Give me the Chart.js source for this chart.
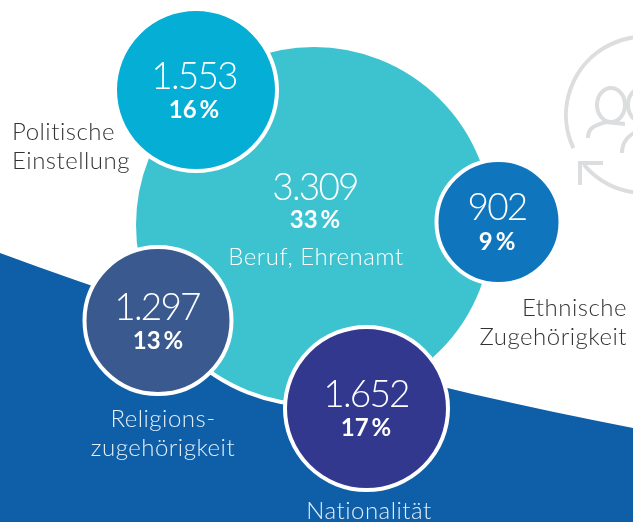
<!DOCTYPE html>
<html lang="de">
<head>
<meta charset="utf-8">
<title>Diskriminierungsmerkmale</title>
<script src="https://cdn.jsdelivr.net/npm/chart.js@4"></script>
<style>
  html, body { margin: 0; padding: 0; background: #fff; overflow: hidden; }
  canvas { display: block; }
</style>
</head>
<body>
<canvas id="chart" width="633" height="522"></canvas>
<script>
// Daten
const categories = [['Beruf, Ehrenamt'], ['Politische', 'Einstellung'], ['Ethnische', 'Zugehörigkeit'], ['Religions-', 'zugehörigkeit'], ['Nationalität']];
const counts = [3309, 1553, 902, 1297, 1652];
const shares = [33, 16, 9, 13, 17];

// Layout der Blasen
const bubbleX = [314, 196, 498.5, 158, 366.5];
const bubbleY = [225, 90, 222, 320.5, 408.5];
const bubbleR = [180, 81, 62, 73.5, 81.5];
const bubbleColors = ['#3DC3CF', '#05AED5', '#0F75BC', '#3A5A8F', '#33388F'];

// Layout der Beschriftungen
const valueX = [315, 194, 497, 157, 366];
const valueY = [188, 77, 208, 308, 395];
const shareX = [315, 194, 497, 158, 366];
const shareY = [220, 110, 242, 341, 428];
const nameX = [316, 12, 627, 163, 369];
const nameY = [257, 132, 308, 419, 511];
const nameColors = ['#fff', '#333', '#333', '#e3eef7', '#e3eef7'];
const nameAlign = ['center', 'left', 'right', 'center', 'center'];

const FONT = 'Lato, "Open Sans", sans-serif';

// Hintergrund: blaue Fläche und Symbol
const backdrop = {
    id: 'backdrop',
    beforeDatasetsDraw(chart) {
        const ctx = chart.ctx;
        ctx.save();
        ctx.fillStyle = '#0F5EA8';
        ctx.beginPath();
        ctx.moveTo(0, 253);
        ctx.bezierCurveTo(200, 328, 420, 387, 633, 428);
        ctx.lineTo(633, 522);
        ctx.lineTo(0, 522);
        ctx.closePath();
        ctx.fill();

        // Symbol rechts oben
        ctx.strokeStyle = '#DCDDDE';
        ctx.lineWidth = 4;
        ctx.beginPath();
        ctx.arc(644, 115, 78, Math.PI * 0.86, Math.PI * 1.6);
        ctx.stroke();
        ctx.beginPath();
        ctx.arc(644, 115, 78, Math.PI * 0.78, Math.PI * 0.52, true);
        ctx.stroke();
        ctx.beginPath();
        ctx.moveTo(603, 163);
        ctx.lineTo(580, 163);
        ctx.lineTo(580, 185);
        ctx.stroke();
        ctx.beginPath();
        ctx.ellipse(611, 105, 14, 17, 0, 0, Math.PI * 2);
        ctx.stroke();
        ctx.beginPath();
        ctx.moveTo(588, 138);
        ctx.bezierCurveTo(588, 127, 596, 125, 606, 122);
        ctx.lineTo(625, 124);
        ctx.stroke();
        ctx.beginPath();
        ctx.ellipse(642, 105, 14, 17, 0, 0, Math.PI * 2);
        ctx.stroke();
        ctx.beginPath();
        ctx.moveTo(622, 153);
        ctx.bezierCurveTo(622, 140, 630, 134, 640, 130);
        ctx.stroke();
        ctx.restore();
    }
};

// Werte und Namen auf den Blasen
const bubbleLabels = {
    id: 'bubbleLabels',
    afterDatasetsDraw(chart) {
        const ctx = chart.ctx;
        const fmt = new Intl.NumberFormat('de-DE', { useGrouping: 'always' });
        ctx.save();
        ctx.textBaseline = 'middle';
        counts.forEach((count, i) => {
            ctx.textAlign = 'center';
            ctx.fillStyle = '#fff';
            ctx.font = '300 37px ' + FONT;
            ctx.letterSpacing = '-1.8px';
            ctx.fillText(fmt.format(count), valueX[i], valueY[i]);
            ctx.letterSpacing = '0px';
            ctx.font = '700 24px ' + FONT;
            ctx.fillText(shares[i] + '\u2009%', shareX[i], shareY[i]);

            ctx.fillStyle = nameColors[i];
            ctx.font = '300 24px ' + FONT;
            ctx.letterSpacing = '0.5px';
            ctx.textAlign = nameAlign[i];
            categories[i].forEach((line, k) => {
                ctx.fillText(line, nameX[i], nameY[i] + k * 29);
            });
            ctx.letterSpacing = '0px';
        });
        ctx.restore();
    }
};

new Chart(document.getElementById('chart'), {
    type: 'bubble',
    data: {
        datasets: [{
            label: 'Fälle',
            data: counts.map((count, i) => ({ x: bubbleX[i], y: bubbleY[i], r: bubbleR[i], count })),
            backgroundColor: bubbleColors,
            borderColor: '#fff',
            borderWidth: 4,
            hoverRadius: 0,
            clip: false
        }]
    },
    options: {
        responsive: false,
        animation: false,
        layout: { padding: 0, autoPadding: false },
        plugins: { legend: { display: false }, tooltip: { enabled: false } },
        scales: {
            x: { type: 'linear', min: 0, max: 633, display: false },
            y: { type: 'linear', min: 0, max: 522, reverse: true, display: false }
        }
    },
    plugins: [backdrop, bubbleLabels]
});
</script>
</body>
</html>
